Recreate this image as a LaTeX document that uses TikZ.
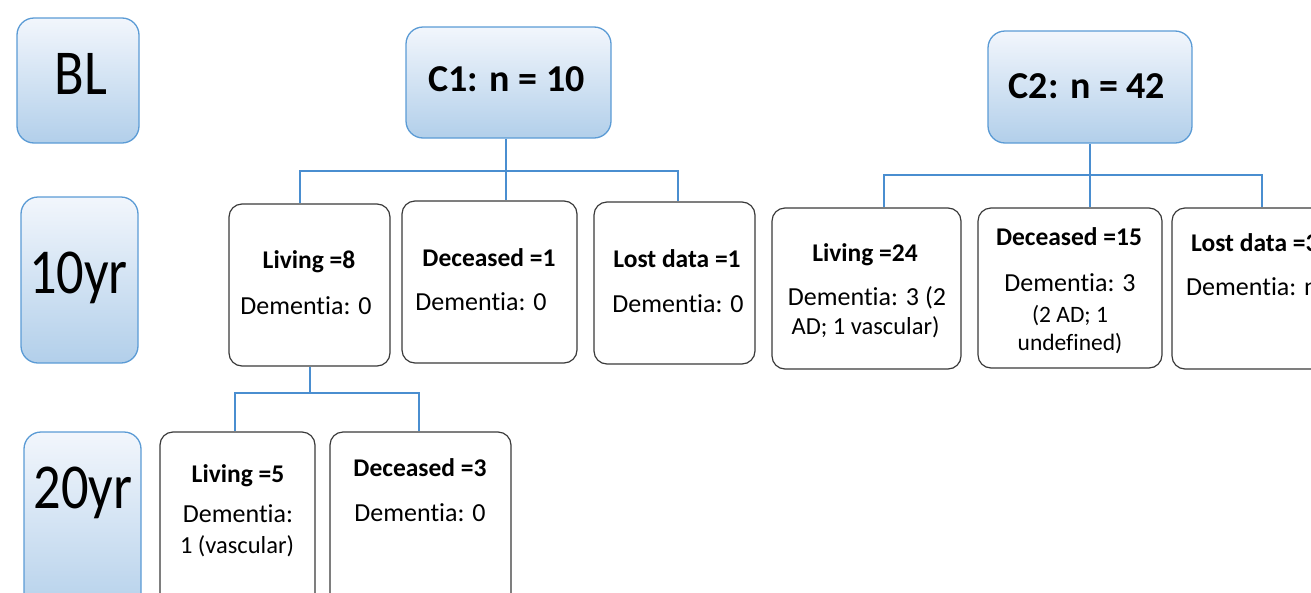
\documentclass[tikz,border=0pt]{standalone}
\usepackage{fontspec}
\setmainfont{Carlito}[Ligatures=NoCommon]
\newfontfamily\condfont{Carlito}[FakeStretch=0.85,Ligatures=NoCommon]
\definecolor{hdrblue}{HTML}{5B9BD5}
\definecolor{hdrtop}{HTML}{F2F6FC}
\definecolor{hdrbot}{HTML}{B2CFEA}
\definecolor{connblue}{HTML}{4A8ED0}
\definecolor{boxgray}{HTML}{3A3A3A}
\begin{document}
\begin{tikzpicture}[x=1pt,y=-1pt,
  hdr/.style={draw=hdrblue, line width=1.3pt, rounded corners=17pt, top color=hdrtop, bottom color=hdrbot, inner sep=0pt},
  box/.style={draw=boxgray, line width=1.2pt, rounded corners=13pt, fill=white, inner sep=0pt},
  conn/.style={draw=connblue, line width=1.5pt},
  big/.style={font=\condfont\fontsize{64}{70}\selectfont, inner sep=0pt, anchor=base},
  cohort/.style={font=\bfseries\fontsize{38}{44}\selectfont, inner sep=0pt, anchor=base},
  ttl/.style={font=\bfseries\fontsize{25.5}{30}\selectfont, inner sep=0pt, anchor=base},
  dem/.style={font=\fontsize{26}{30}\selectfont, inner sep=0pt, anchor=base},
  sm/.style={font=\fontsize{23.5}{28}\selectfont, inner sep=0pt, anchor=base}]
\useasboundingbox (0,0) rectangle (1311,592);
\clip (0,0) rectangle (1311,592);
% headers
\node[hdr, minimum width=122, minimum height=125] (bl) at (78,80.5) {};
\node[big] (bltxt) at (81,94.5) {BL};
\node[hdr, minimum width=117, minimum height=166] (y10) at (79.5,280) {};
\node[big] (y10txt) at (78.5,293) {10yr};
\node[hdr, minimum width=117, minimum height=190] (y20) at (82.5,527) {};
\node[big] (y20txt) at (83,508) {20yr};
\node[hdr, minimum width=205, minimum height=111] (c1) at (508.5,82.5) {};
\node[cohort] (c1txt) at (506.5,91) {C1: n = 10};
\node[hdr, minimum width=204, minimum height=112] (c2) at (1090,87) {};
\node[cohort] (c2txt) at (1087,98) {C2: n = 42};
% 10yr boxes, C1
\node[box, minimum width=161, minimum height=162] (liv8) at (309.5,285) {};
\node[ttl] (liv8t) at (309,268) {Living =8};
\node[dem] (liv8d) at (306,314) {Dementia: 0};
\node[box, minimum width=175, minimum height=162] (dec1) at (489.5,282) {};
\node[ttl] (dec1t) at (489,266) {Deceased =1};
\node[dem] (dec1d) at (481,310.5) {Dementia: 0};
\node[box, minimum width=161, minimum height=162] (lost1) at (674.5,283) {};
\node[ttl] (lost1t) at (677,267) {Lost data =1};
\node[dem] (lost1d) at (678,312.5) {Dementia: 0};
% 10yr boxes, C2
\node[box, minimum width=189, minimum height=161] (liv24) at (866.5,288.5) {};
\node[ttl] (liv24t) at (865,261.5) {Living =24};
\node[dem] (liv24d) at (867,305) {Dementia: 3 (2};
\node[dem, font=\fontsize{24.5}{28}\selectfont] (liv24e) at (865.5,334.5) {AD; 1 vascular)};
\node[box, minimum width=184, minimum height=160] (dec15) at (1070,288) {};
\node[ttl] (dec15t) at (1069,245.5) {Deceased =15};
\node[dem] (dec15d) at (1070,291) {Dementia: 3};
\node[sm] (dec15e) at (1070,322) {(2 AD; 1};
\node[sm] (dec15f) at (1070,350) {undefined)};
\node[box, minimum width=166, minimum height=161] (lost3) at (1255,288.5) {};
\node[ttl, anchor=base west] (lost3t) at (1191,251) {Lost data =3};
\node[dem, anchor=base west] (lost3d) at (1186,295.5) {Dementia: n};
% 20yr boxes
\node[box, minimum width=155, minimum height=180] (liv5) at (237.5,522) {};
\node[ttl] (liv5t) at (238,482) {Living =5};
\node[dem] (liv5d) at (238,522) {Dementia:};
\node[dem, font=\fontsize{24.5}{28}\selectfont] (liv5e) at (237,553) {1 (vascular)};
\node[box, minimum width=181, minimum height=180] (dec3) at (420.5,522) {};
\node[ttl] (dec3t) at (420,476) {Deceased =3};
\node[dem] (dec3d) at (420,521.5) {Dementia: 0};
% connectors C1
\coordinate (j1) at (506,171);
\draw[conn] (c1.south -| j1) -- (dec1.north -| j1);
\draw[conn] ([xshift=-9.5]liv8.north) |- (j1) -| ([xshift=3.5]lost1.north);
% connectors C2
\coordinate (j2) at (1090,175);
\draw[conn] (c2.south) -- (dec15.north -| j2);
\draw[conn] ([xshift=17.5]liv24.north) |- (j2) -| ([xshift=7]lost3.north);
% connectors Living=8
\coordinate (j3) at (310,393);
\draw[conn] (liv8.south -| j3) -- (j3);
\draw[conn] ([xshift=-2.5]liv5.north) |- (j3) -| ([xshift=-1.5]dec3.north);
\end{tikzpicture}
\end{document}
